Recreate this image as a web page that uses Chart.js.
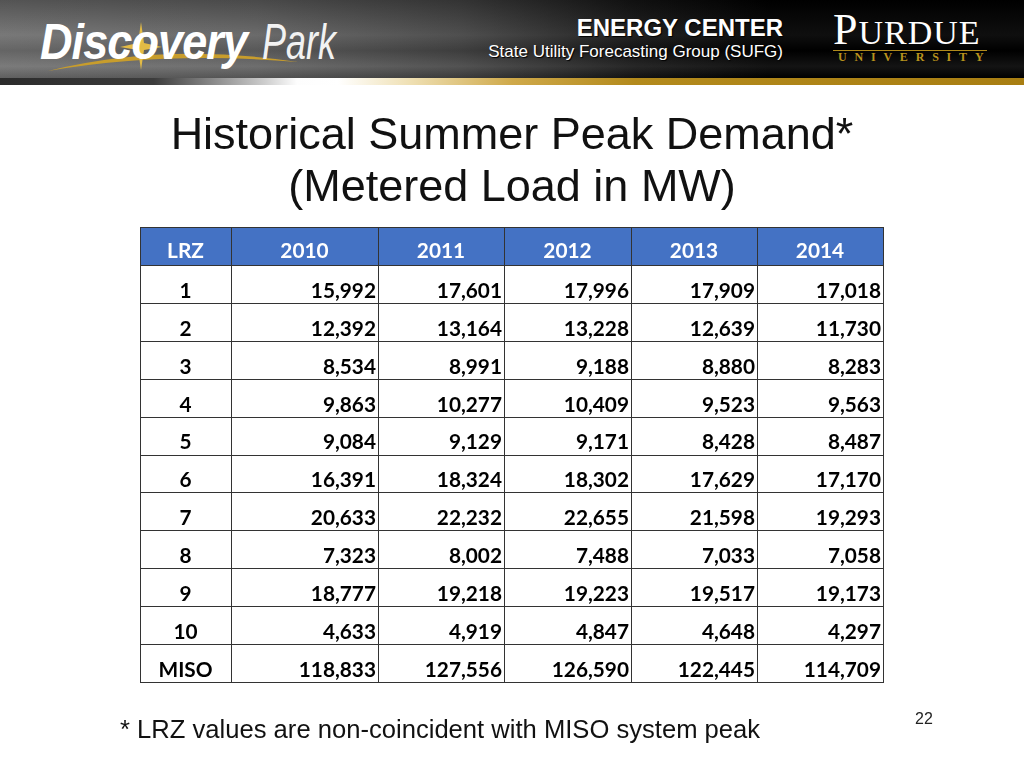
<!DOCTYPE html>
<html>
<head>
<meta charset="utf-8">
<script src="https://cdn.jsdelivr.net/npm/chart.js@4.4.1/dist/chart.umd.min.js"></script>
<style>
  html, body { margin: 0; padding: 0; background: #fff; }
  #page { position: relative; width: 1024px; height: 768px; overflow: hidden; font-family: "Liberation Sans", Arial, sans-serif; }
  #banner { position: absolute; left: 0; top: 0; width: 1024px; height: 78px;
    background: linear-gradient(90deg, #707070 0%, #626262 25%, #444 45%, #151515 62%, #000 75%, #000 100%); }
  #banner:after { content: ""; position: absolute; left: 0; top: 0; right: 0; bottom: 0;
    background: linear-gradient(180deg, rgba(0,0,0,0.25) 0%, rgba(255,255,255,0.06) 45%, rgba(0,0,0,0.1) 65%, rgba(255,255,255,0.08) 85%, rgba(0,0,0,0.15) 100%); }
  #stripe { position: absolute; left: 0; top: 78px; width: 1024px; height: 7px;
    background: linear-gradient(90deg, #2b2b2b 0%, #3c3c3c 15%, #cfcfcf 26%, #fdfdfd 29%, #ffffff 33%, #efe0b4 40%, #cfa94a 50%, #b38a1c 62%, #a87e12 100%); }
  .abs { position: absolute; white-space: nowrap; }
  #dp1 { left: 40px; top: 17px; font: italic bold 50px/50px "Liberation Sans", Arial, sans-serif; color: #fff; letter-spacing: -1px; transform: scaleX(0.9); transform-origin: left top; }
  #dp2 { left: 262px; top: 17px; font: italic 50px/50px "Liberation Sans", Arial, sans-serif; color: #f2f2f2; transform: scaleX(0.72); transform-origin: left top; }
  #ec { right: 241px; top: 16px; font: bold 24px/24px "Liberation Sans", Arial, sans-serif; color: #fff; text-shadow: 1px 1px 1px #000; }
  #sufg { right: 241px; top: 44px; font: 17px/16px "Liberation Sans", Arial, sans-serif; color: #fff; text-shadow: 1px 1px 1px #000; }
  #pu { left: 833px; top: 11px; font: 34px/38px "Liberation Serif", "Times New Roman", serif; color: #fff; letter-spacing: 1px; }
  #pu span { font-size: 44px; line-height: 38px; }
  #puline { left: 833px; top: 50px; width: 154px; height: 1px; background: #b08a1c; }
  #univ { left: 838px; top: 51px; font: bold 12px/13px "Liberation Serif", serif; color: #b8921e; letter-spacing: 7.8px; }
  #title { left: 0; top: 108px; width: 1024px; text-align: center; font: 45px/52px "Liberation Sans", Arial, sans-serif; color: #111; }
  #note { left: 120px; top: 717px; font: 25.6px/25px "Liberation Sans", Arial, sans-serif; color: #111; }
  #num { left: 915px; top: 711px; font: 16px/16px "Liberation Sans", Arial, sans-serif; color: #222; }
  canvas { position: absolute; left: 0; top: 0; }
</style>
</head>
<body>
<div id="page">
  <div id="banner"></div>
  <div id="stripe"></div>
  <svg class="abs" style="left:0;top:0" width="340" height="78">
    <path d="M48,71 Q165,42 298,62 Q165,51 48,71 Z" fill="#c89d2c"/>
    <path d="M141,22 L144,43 L162,47 L144,50 L141,70 L138,50 L120,47 L138,43 Z" fill="#e3bb45"/>
  </svg>
  <div class="abs" id="dp1">Discovery</div>
  <div class="abs" id="dp2">Park</div>
  <div class="abs" id="ec">ENERGY CENTER</div>
  <div class="abs" id="sufg">State Utility Forecasting Group (SUFG)</div>
  <div class="abs" id="pu"><span>P</span>URDUE</div>
  <div class="abs" id="puline"></div>
  <div class="abs" id="univ">UNIVERSITY</div>
  <canvas id="chart-area" width="1024" height="768"></canvas>
  <div class="abs" id="title">Historical Summer Peak Demand*<br>(Metered Load in MW)</div>
  <div class="abs" id="note">* LRZ values are non-coincident with MISO system peak</div>
  <div class="abs" id="num">22</div>
</div>
<script>
// table data
var headLabel = 'LRZ';
var zones = ['1', '2', '3', '4', '5', '6', '7', '8', '9', '10', 'MISO'];
var years = ['2010', '2011', '2012', '2013', '2014'];
var load2010 = [15992, 12392, 8534, 9863, 9084, 16391, 20633, 7323, 18777, 4633, 118833];
var load2011 = [17601, 13164, 8991, 10277, 9129, 18324, 22232, 8002, 19218, 4919, 127556];
var load2012 = [17996, 13228, 9188, 10409, 9171, 18302, 22655, 7488, 19223, 4847, 126590];
var load2013 = [17909, 12639, 8880, 9523, 8428, 17629, 21598, 7033, 19517, 4648, 122445];
var load2014 = [17018, 11730, 8283, 9563, 8487, 17170, 19293, 7058, 19173, 4297, 114709];

// column edges on the x scale (table units)
var colEdges = [0, 91, 238, 364, 491, 617, 743];

var tablePlugin = {
	id: 'tableCells',
	afterDraw: function(chart){
		var ctx = chart.ctx;
		var x = chart.scales.x, y = chart.scales.y;
		var rows = chart.data.labels;
		var step = (y.bottom - y.top) / rows.length;
		var ex = colEdges.map(function(v){ return Math.round(x.getPixelForValue(v)); });
		var rowTop = function(i){ return Math.round(y.getPixelForValue(i) - step / 2); };
		var rowBot = function(i){ return Math.round(y.getPixelForValue(i) + step / 2); };

		ctx.save();
		// header band
		ctx.fillStyle = '#4472C4';
		ctx.fillRect(ex[0], rowTop(0), ex[ex.length - 1] - ex[0], rowTop(1) - rowTop(0));

		// grid
		ctx.strokeStyle = '#333';
		ctx.lineWidth = 1;
		ctx.beginPath();
		for (var i = 0; i < rows.length; i++) {
			ctx.moveTo(ex[0], rowTop(i) + 0.5);
			ctx.lineTo(ex[ex.length - 1] + 1, rowTop(i) + 0.5);
		}
		var bot = rowBot(rows.length - 1);
		ctx.moveTo(ex[0], bot + 0.5);
		ctx.lineTo(ex[ex.length - 1] + 1, bot + 0.5);
		ex.forEach(function(px){
			ctx.moveTo(px + 0.5, rowTop(0));
			ctx.lineTo(px + 0.5, bot + 1);
		});
		ctx.stroke();

		// text
		var sx = 1.04;
		var put = function(txt, px, base, align, color){
			ctx.save();
			ctx.fillStyle = color;
			ctx.textAlign = align;
			ctx.textBaseline = 'alphabetic';
			ctx.translate(px, base);
			ctx.scale(sx, 1);
			ctx.fillText(txt, 0, 0);
			ctx.restore();
		};
		ctx.font = 'bold 20px Lato, "Open Sans", sans-serif';
		for (var r = 0; r < rows.length; r++) {
			var b = rowBot(r);
			if (r === 0) {
				put(rows[0], (ex[0] + ex[1]) / 2, b - 7, 'center', '#fff');
				chart.data.datasets.forEach(function(ds, c){
					put(ds.label, (ex[c + 1] + ex[c + 2]) / 2, b - 7, 'center', '#fff');
				});
			} else {
				put(rows[r], (ex[0] + ex[1]) / 2, b - 5, 'center', '#000');
				chart.data.datasets.forEach(function(ds, c){
					put(ds.data[r].toLocaleString('en-US'), ex[c + 2] - 2, b - 5, 'right', '#000');
				});
			}
		}
		ctx.restore();
	}
};

var series = [load2010, load2011, load2012, load2013, load2014];
var config = {
	type: 'bar',
	data: {
		labels: [headLabel].concat(zones),
		datasets: years.map(function(yr, i){
			return { label: yr, data: [null].concat(series[i]), hidden: true };
		})
	},
	options: {
		indexAxis: 'y',
		responsive: false,
		animation: false,
		events: [],
		layout: { padding: { left: 140, right: 141, top: 227, bottom: 86 } },
		scales: {
			x: { type: 'linear', min: 0, max: 743, display: false },
			y: { type: 'category', offset: true, display: false }
		},
		plugins: { legend: { display: false }, tooltip: { enabled: false } }
	},
	plugins: [tablePlugin]
};

var ctx = document.getElementById('chart-area').getContext('2d');
window.myTable = new Chart(ctx, config);
</script>
</body>
</html>
